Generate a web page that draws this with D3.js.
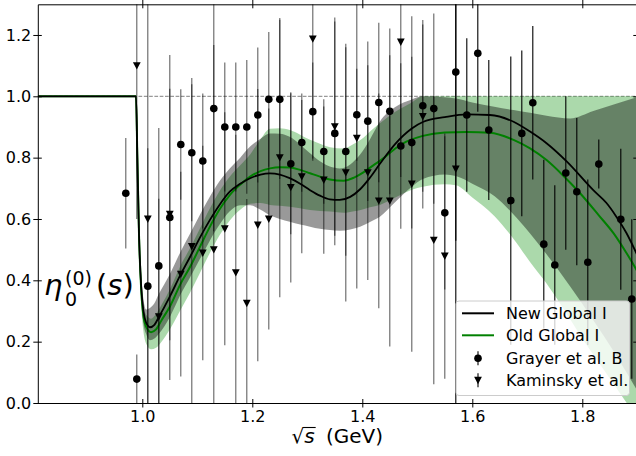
<!DOCTYPE html>
<html>
<head>
<meta charset="utf-8">
<script src="https://cdn.jsdelivr.net/npm/d3@7"></script>
<style>
  html, body { margin: 0; padding: 0; background: #fff; }
  svg { display: block; font-family: "DejaVu Sans", sans-serif; }
</style>
</head>
<body>
<svg id="chart" width="636" height="456"></svg>
<script>
// ---------------- data ----------------
const xTicks = [1.0, 1.2, 1.4, 1.6, 1.8];
const yTicks = [0.0, 0.2, 0.4, 0.6, 0.8, 1.0, 1.2];

// New Global I (black curve)
const newX = [0.81, 0.9885, 0.991, 0.994, 0.998, 1.002, 1.007, 1.014, 1.022, 1.03, 1.05, 1.07, 1.087, 1.105, 1.123, 1.14, 1.159, 1.178, 1.196, 1.215, 1.232, 1.25, 1.268, 1.287, 1.305, 1.323, 1.341, 1.359, 1.378, 1.396, 1.414, 1.432, 1.46, 1.49, 1.511, 1.55, 1.59, 1.632, 1.675, 1.705, 1.735, 1.772, 1.82, 1.844, 1.861, 1.88, 1.9];
const newY = [1.0, 1.0, 0.80, 0.55, 0.38, 0.30, 0.262, 0.247, 0.255, 0.28, 0.347, 0.42, 0.477, 0.54, 0.597, 0.645, 0.689, 0.715, 0.733, 0.745, 0.749, 0.745, 0.733, 0.715, 0.694, 0.676, 0.664, 0.662, 0.672, 0.697, 0.735, 0.78, 0.845, 0.895, 0.917, 0.932, 0.941, 0.939, 0.917, 0.885, 0.847, 0.787, 0.694, 0.652, 0.61, 0.555, 0.482];

// Old Global I (green curve)
const oldX = [0.81, 0.9885, 0.991, 0.994, 0.998, 1.002, 1.008, 1.016, 1.025, 1.035, 1.05, 1.07, 1.087, 1.105, 1.123, 1.14, 1.159, 1.178, 1.196, 1.215, 1.232, 1.25, 1.268, 1.287, 1.305, 1.323, 1.341, 1.366, 1.385, 1.402, 1.42, 1.44, 1.46, 1.48, 1.51, 1.55, 1.59, 1.632, 1.675, 1.705, 1.735, 1.765, 1.796, 1.83, 1.857, 1.88, 1.9];
const oldY = [1.0, 1.0, 0.80, 0.55, 0.37, 0.285, 0.245, 0.231, 0.24, 0.27, 0.314, 0.39, 0.444, 0.51, 0.575, 0.63, 0.678, 0.712, 0.738, 0.756, 0.765, 0.769, 0.768, 0.76, 0.749, 0.738, 0.729, 0.725, 0.735, 0.752, 0.775, 0.80, 0.83, 0.852, 0.871, 0.882, 0.884, 0.881, 0.858, 0.83, 0.792, 0.742, 0.684, 0.612, 0.553, 0.49, 0.43];

// New Global I uncertainty band
const newBandX = [0.9885, 0.991, 0.994, 0.998, 1.002, 1.007, 1.014, 1.022, 1.03, 1.05, 1.07, 1.087, 1.105, 1.123, 1.14, 1.159, 1.178, 1.196, 1.215, 1.232, 1.25, 1.268, 1.287, 1.305, 1.323, 1.341, 1.359, 1.378, 1.396, 1.414, 1.432, 1.46, 1.49, 1.51, 1.55, 1.57, 1.60, 1.64, 1.675, 1.705, 1.735, 1.778, 1.82, 1.86, 1.9];
const newBandLo = [1.0, 0.78, 0.52, 0.34, 0.26, 0.225, 0.205, 0.21, 0.225, 0.28, 0.355, 0.41, 0.47, 0.53, 0.58, 0.625, 0.645, 0.645, 0.63, 0.612, 0.60, 0.591, 0.582, 0.575, 0.568, 0.564, 0.562, 0.566, 0.575, 0.59, 0.607, 0.655, 0.705, 0.73, 0.745, 0.74, 0.715, 0.675, 0.615, 0.553, 0.485, 0.38, 0.27, 0.16, 0.04];
const newBandHi = [1.0, 0.82, 0.58, 0.42, 0.34, 0.305, 0.31, 0.325, 0.355, 0.42, 0.495, 0.553, 0.615, 0.673, 0.722, 0.765, 0.80, 0.836, 0.862, 0.879, 0.878, 0.868, 0.843, 0.814, 0.788, 0.771, 0.765, 0.778, 0.81, 0.86, 0.918, 0.965, 0.99, 1.0, 0.997, 0.993, 0.98, 0.966, 0.955, 0.946, 0.937, 0.928, 0.952, 0.975, 0.997];

// Old Global I uncertainty band
const oldBandX = [0.9885, 0.991, 0.994, 0.998, 1.002, 1.008, 1.016, 1.025, 1.035, 1.05, 1.07, 1.087, 1.105, 1.123, 1.14, 1.159, 1.178, 1.196, 1.215, 1.232, 1.25, 1.268, 1.287, 1.305, 1.323, 1.341, 1.366, 1.385, 1.402, 1.414, 1.432, 1.46, 1.49, 1.51, 1.55, 1.57, 1.60, 1.64, 1.675, 1.705, 1.735, 1.765, 1.80, 1.85, 1.9];
const oldBandLo = [1.0, 0.77, 0.50, 0.32, 0.235, 0.19, 0.175, 0.18, 0.20, 0.24, 0.305, 0.36, 0.425, 0.49, 0.545, 0.595, 0.63, 0.65, 0.652, 0.646, 0.643, 0.64, 0.635, 0.629, 0.626, 0.624, 0.62, 0.625, 0.632, 0.638, 0.646, 0.67, 0.695, 0.705, 0.713, 0.71, 0.67, 0.61, 0.535, 0.46, 0.39, 0.31, 0.21, 0.08, -0.05];
const oldBandHi = [1.0, 0.81, 0.57, 0.40, 0.315, 0.285, 0.275, 0.29, 0.32, 0.37, 0.45, 0.505, 0.57, 0.635, 0.69, 0.738, 0.775, 0.81, 0.86, 0.894, 0.896, 0.89, 0.875, 0.858, 0.845, 0.834, 0.83, 0.845, 0.865, 0.885, 0.912, 0.95, 0.98, 1.0, 1.0, 1.0, 1.0, 1.0, 1.0, 1.0, 1.0, 1.0, 1.0, 1.0, 1.0];

// Grayer et al. B
const grayerX = [0.97, 0.99, 1.01, 1.03, 1.05, 1.07, 1.09, 1.11, 1.13, 1.15, 1.17, 1.19, 1.21, 1.23, 1.25, 1.27, 1.29, 1.31, 1.33, 1.35, 1.37, 1.39, 1.41, 1.43, 1.45, 1.47, 1.49, 1.51, 1.53, 1.55, 1.57, 1.59, 1.61, 1.63, 1.67, 1.69, 1.71, 1.73, 1.75, 1.77, 1.79, 1.81, 1.83, 1.87, 1.89];
const grayerY = [0.684, 0.078, 0.381, 0.447, 0.605, 0.843, 0.816, 0.789, 0.96, 0.90, 0.90, 0.90, 0.939, 0.99, 0.99, 0.78, 0.849, 0.95, 0.82, 0.879, 0.82, 0.94, 0.919, 0.98, 0.951, 0.838, 0.849, 0.969, 0.96, 0.62, 1.079, 0.939, 1.14, 0.89, 0.66, 0.879, 0.979, 0.518, 0.45, 0.75, 0.689, 0.459, 0.779, 0.599, 0.339];
const grayerErr = [0.18, 0.08, 0.45, 0.45, 0.53, 0.18, 0.223, 0.22, 0.40, 0.21, 0.21, 0.218, 0.22, 0.22, 0.26, 0.23, 0.16, 0.16, 0.17, 0.365, 0.34, 0.15, 0.26, 0.26, 0.27, 0.27, 0.28, 0.28, 0.31, 0.25, 0.55, 0.25, 0.19, 0.228, 0.47, 0.27, 0.25, 0.275, 0.26, 0.25, 0.24, 0.27, 0.08, 0.23, 0.26];

// Kaminsky et al.
const kaminskyX = [0.99, 1.01, 1.03, 1.05, 1.07, 1.09, 1.11, 1.13, 1.15, 1.17, 1.19, 1.21, 1.23, 1.25, 1.27, 1.29, 1.31, 1.33, 1.35, 1.37, 1.39, 1.41, 1.43, 1.45, 1.47, 1.49, 1.51, 1.53, 1.55, 1.57];
const kaminskyY = [1.10, 0.60, 0.281, 0.615, 0.42, 0.51, 0.489, 0.50, 0.568, 0.425, 0.325, 0.58, 0.60, 0.80, 0.703, 0.738, 1.187, 0.727, 0.901, 0.751, 0.863, 0.751, 0.659, 0.659, 1.177, 0.714, 0.934, 0.531, 0.479, 0.763];
const kaminskyErr = [0.50, 0.75, 0.385, 0.41, 0.334, 0.55, 0.35, 0.667, 0.38, 0.45, 0.34, 0.444, 0.36, 0.455, 0.31, 0.25, 0.39, 0.24, 0.356, 0.42, 0.49, 0.35, 0.35, 0.475, 0.44, 0.547, 0.30, 0.47, 0.40, 0.80];

const legendLabels = ["New Global I", "Old Global I", "Grayer et al. B", "Kaminsky et al."];

// ---------------- layout ----------------
const svg = d3.select("#chart");
const L = 37.8, R = 637.3, T = 4.3, B = 403;
const x = d3.scaleLinear().domain([0.81, 1.9]).range([L, R]);
const y = d3.scaleLinear().domain([0, 1.3]).range([B, T]);

svg.append("defs").append("clipPath").attr("id", "clip")
  .append("rect").attr("x", L).attr("y", T).attr("width", R - L).attr("height", B - T);

const plot = svg.append("g").attr("clip-path", "url(#clip)");

// dashed unit line
plot.append("line")
  .attr("x1", L).attr("x2", R).attr("y1", y(1)).attr("y2", y(1))
  .attr("stroke", "#808080").attr("stroke-width", 1).attr("stroke-dasharray", "3.7,1.6");

// bands
function bandData(xs, lo, hi) { return xs.map((v, i) => ({ x: v, lo: lo[i], hi: hi[i] })); }
const area = d3.area().x(d => x(d.x)).y0(d => y(d.lo)).y1(d => y(d.hi)).curve(d3.curveMonotoneX);

plot.append("path").datum(bandData(oldBandX, oldBandLo, oldBandHi))
  .attr("d", area).attr("fill", "rgb(44,160,44)").attr("fill-opacity", 0.4);
plot.append("path").datum(bandData(newBandX, newBandLo, newBandHi))
  .attr("d", area).attr("fill", "#000").attr("fill-opacity", 0.4);

// curves
const line = d3.line().x(d => x(d[0])).y(d => y(d[1])).curve(d3.curveMonotoneX);
plot.append("path").datum(oldX.map((v, i) => [v, oldY[i]]))
  .attr("d", line).attr("fill", "none").attr("stroke", "#008000").attr("stroke-width", 2);
plot.append("path").datum(newX.map((v, i) => [v, newY[i]]))
  .attr("d", line).attr("fill", "none").attr("stroke", "#000").attr("stroke-width", 1.8);

// error bars
function errOpacity(v) { return v < 1.565 ? 0.62 : 1; }
function drawBars(xs, ys, es) {
  plot.append("g").selectAll("line").data(xs.map((v, i) => ({ x: v, y: ys[i], e: es[i] })))
    .join("line")
    .attr("x1", d => x(d.x)).attr("x2", d => x(d.x))
    .attr("y1", d => y(d.y - d.e)).attr("y2", d => y(d.y + d.e))
    .attr("stroke", "#000").attr("stroke-width", 1.1)
    .attr("stroke-opacity", d => errOpacity(d.x));
}
drawBars(grayerX, grayerY, grayerErr);
drawBars(kaminskyX, kaminskyY, kaminskyErr);

// markers
const tri = (cx, cy, r) => `M${cx - r},${cy - r * 0.9}L${cx + r},${cy - r * 0.9}L${cx},${cy + r}Z`;
plot.append("g").selectAll("circle").data(grayerX.map((v, i) => [v, grayerY[i]]))
  .join("circle").attr("cx", d => x(d[0])).attr("cy", d => y(d[1])).attr("r", 3.8).attr("fill", "#000");
plot.append("g").selectAll("path").data(kaminskyX.map((v, i) => [v, kaminskyY[i]]))
  .join("path").attr("d", d => tri(x(d[0]), y(d[1]), 3.9)).attr("fill", "#000");

// ---------------- axes ----------------
const fmt = d3.format(".1f");
const ax = svg.append("g").attr("font-family", "DejaVu Sans");

const gb = ax.append("g").attr("transform", `translate(0,${B})`)
  .call(d3.axisBottom(x).tickValues(xTicks).tickFormat(fmt).tickSizeInner(4.5).tickSizeOuter(0).tickPadding(3));
gb.selectAll(".tick line").attr("y1", -4);
const gt = ax.append("g").attr("transform", `translate(0,${T})`)
  .call(d3.axisTop(x).tickValues(xTicks).tickFormat("").tickSizeInner(4.5).tickSizeOuter(0));
gt.selectAll(".tick line").attr("y1", 4);
const gl = ax.append("g").attr("transform", `translate(${L},0)`)
  .call(d3.axisLeft(y).tickValues(yTicks).tickFormat(fmt).tickSizeInner(4.5).tickSizeOuter(0).tickPadding(2));
gl.selectAll(".tick line").attr("x1", 4);
const gr = ax.append("g").attr("transform", `translate(${R},0)`)
  .call(d3.axisRight(y).tickValues(yTicks).tickFormat("").tickSizeInner(4.5).tickSizeOuter(0));
gr.selectAll(".tick line").attr("x1", -4);

ax.selectAll(".domain").attr("stroke", "#000").attr("stroke-width", 1);
ax.selectAll(".tick line").attr("stroke", "#000").attr("stroke-width", 1);
ax.selectAll(".tick text").attr("font-size", 16).attr("font-family", "DejaVu Sans").attr("fill", "#000");

// x label: √s (GeV)
const xl = svg.append("g").attr("font-family", "DejaVu Sans").attr("font-size", 20).attr("fill", "#000");
const rad = xl.append("text").attr("x", 291.5).attr("y", 443).text("√");
const rw = rad.node().getComputedTextLength();
const sx = xl.append("text").attr("x", 291.5 + rw).attr("y", 443).attr("font-style", "italic").text("s");
const sw = sx.node().getComputedTextLength();
xl.append("line").attr("x1", 291.5 + rw - 1).attr("x2", 291.5 + rw + sw + 1)
  .attr("y1", 427.5).attr("y2", 427.5).attr("stroke", "#000").attr("stroke-width", 1.1);
xl.append("text").attr("x", 326).attr("y", 443).text("(GeV)");

// y label: η_0^(0)(s)
const yl = svg.append("g").attr("font-family", "DejaVu Sans").attr("fill", "#000");
yl.append("text").attr("x", 44).attr("y", 295).attr("font-size", 29).attr("font-style", "italic").text("η");
yl.append("text").attr("x", 65).attr("y", 284.5).attr("font-size", 19).text("(0)");
yl.append("text").attr("x", 65).attr("y", 305.5).attr("font-size", 19).text("0");
const ps = yl.append("text").attr("x", 96).attr("y", 295).attr("font-size", 29);
ps.append("tspan").text("(");
ps.append("tspan").attr("font-style", "italic").text("s");
ps.append("tspan").text(")");

// ---------------- legend ----------------
const lg = svg.append("g").attr("font-family", "DejaVu Sans");
lg.append("rect").attr("x", 456).attr("y", 301).attr("width", 173.5).attr("height", 94.5).attr("rx", 3)
  .attr("fill", "#fff").attr("fill-opacity", 0.8).attr("stroke", "#cccccc").attr("stroke-width", 1);
const rowY = [313.3, 335.3, 358.3, 380.3];
lg.append("line").attr("x1", 462).attr("x2", 494).attr("y1", rowY[0]).attr("y2", rowY[0]).attr("stroke", "#000").attr("stroke-width", 2);
lg.append("line").attr("x1", 462).attr("x2", 494).attr("y1", rowY[1]).attr("y2", rowY[1]).attr("stroke", "#008000").attr("stroke-width", 2);
lg.append("line").attr("x1", 478).attr("x2", 478).attr("y1", rowY[2] - 7).attr("y2", rowY[2] + 7).attr("stroke", "#000").attr("stroke-width", 1.1);
lg.append("circle").attr("cx", 478).attr("cy", rowY[2]).attr("r", 3.8).attr("fill", "#000");
lg.append("line").attr("x1", 478).attr("x2", 478).attr("y1", rowY[3] - 7).attr("y2", rowY[3] + 7).attr("stroke", "#000").attr("stroke-width", 1.1);
lg.append("path").attr("d", tri(478, rowY[3], 3.9)).attr("fill", "#000");
lg.selectAll("text.lab").data(legendLabels).join("text").attr("class", "lab")
  .attr("x", 506).attr("y", (d, i) => rowY[i]).attr("dy", "0.36em")
  .attr("font-size", 16).attr("fill", "#000").text(d => d);
</script>
</body>
</html>
